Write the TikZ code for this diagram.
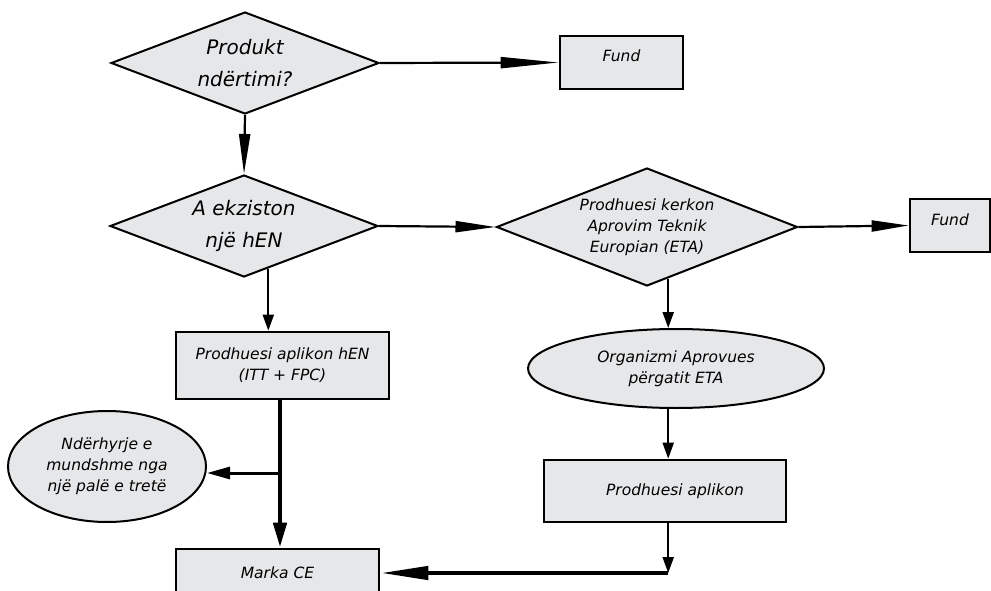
\documentclass[tikz,border=0pt]{standalone}
\usepackage{fontspec}
\setmainfont{DejaVu Sans}[ItalicFont={DejaVu Sans Oblique}]
\usetikzlibrary{shapes.geometric,arrows.meta,calc}
\definecolor{boxgray}{RGB}{230,231,233}

\begin{document}
\begin{tikzpicture}[x=1pt,y=-1pt,
    big/.style={font=\itshape\fontsize{20}{32}\selectfont,align=center},
    small/.style={font=\itshape\fontsize{15.5}{21}\selectfont,align=center},
    ask/.style={diamond,draw,fill=boxgray,line width=2pt,inner sep=0pt,minimum width=268pt,minimum height=102pt},
    box/.style={rectangle,draw,fill=boxgray,line width=2.7pt,inner sep=0pt},
    oval/.style={ellipse,draw,fill=boxgray,line width=2pt,inner sep=0pt},
    flow/.style={line width=2.2pt,-{Triangle[length=#1,width=11pt]}},
    flow/.default=16pt,
    heavy/.style={line width=4.5pt,-{Triangle[length=#1,width=13pt]}},
    heavy/.default=25pt]
    \useasboundingbox (0,0) rectangle (991,591);
    \node[ask,big,shape aspect=2.63] (q1) at (245,63) {Produkt\\ndërtimi?};
    \node[box,small,text depth=14pt,minimum width=123pt,minimum height=53pt] (f1) at (621.5,62.5) {Fund};
    \node[ask,big,shape aspect=2.63] (q2) at (244,226) {A ekziston\\një hEN};
    \node[ask,small,shape aspect=2.55,minimum width=301pt,minimum height=118pt] (q3) at (647,227) {Prodhuesi kerkon\\Aprovim Teknik\\Europian (ETA)};
    \node[box,small,text depth=11pt,minimum width=80pt,minimum height=53pt] (f2) at (950,225.5) {Fund};
    \node[box,small,minimum width=213pt,minimum height=67pt] (b1) at (282.5,365.5) {Prodhuesi aplikon hEN\\(ITT + FPC)};
    \node[oval,small,minimum width=296pt,minimum height=79pt] (e1) at (676,368.5) {Organizmi Aprovues\\përgatit ETA};
    \node[box,small,minimum width=242pt,minimum height=62pt] (b2) at (665,491) {\hspace*{20pt}Prodhuesi aplikon};
    \node[oval,small,minimum width=198pt,minimum height=111pt] (e2) at (107,466.5) {Ndërhyrje e\\mundshme nga\\një palë e tretë};
    \node[box,small,minimum width=203pt,minimum height=48pt] (m1) at (277.5,573) {Marka CE};

    \draw[flow=58pt] (q1.east) -- (f1.west);
    \draw[flow=40pt] (q1.south) -- (q2.north);
    \draw[flow=40pt] (q2.east) -- (q3.west);
    \draw[flow=37pt] (q3.east) -- (f2.west);
    \draw[flow] ($(q2.south)!0.18!(q2.east)$) coordinate (s2) -- (s2 |- b1.north);
    \draw[flow] ($(q3.south)!0.14!(q3.east)$) coordinate (s3) -- (s3 |- e1.north);
    \draw[flow] (s3 |- e1.south) -- (s3 |- b2.north);
    \coordinate (k) at (s3 |- m1.east);
    \draw[flow] (s3 |- b2.south) -- (k);
    \draw[heavy=48pt] (k) -- (m1.east);
    \coordinate (v) at (280,473);
    \draw[heavy] (v |- b1.south) -- (v |- m1.north);
    \draw[line width=3pt,-{Triangle[length=23pt,width=12pt]}] (v) -- (v -| e2.east);
\end{tikzpicture}
\end{document}
